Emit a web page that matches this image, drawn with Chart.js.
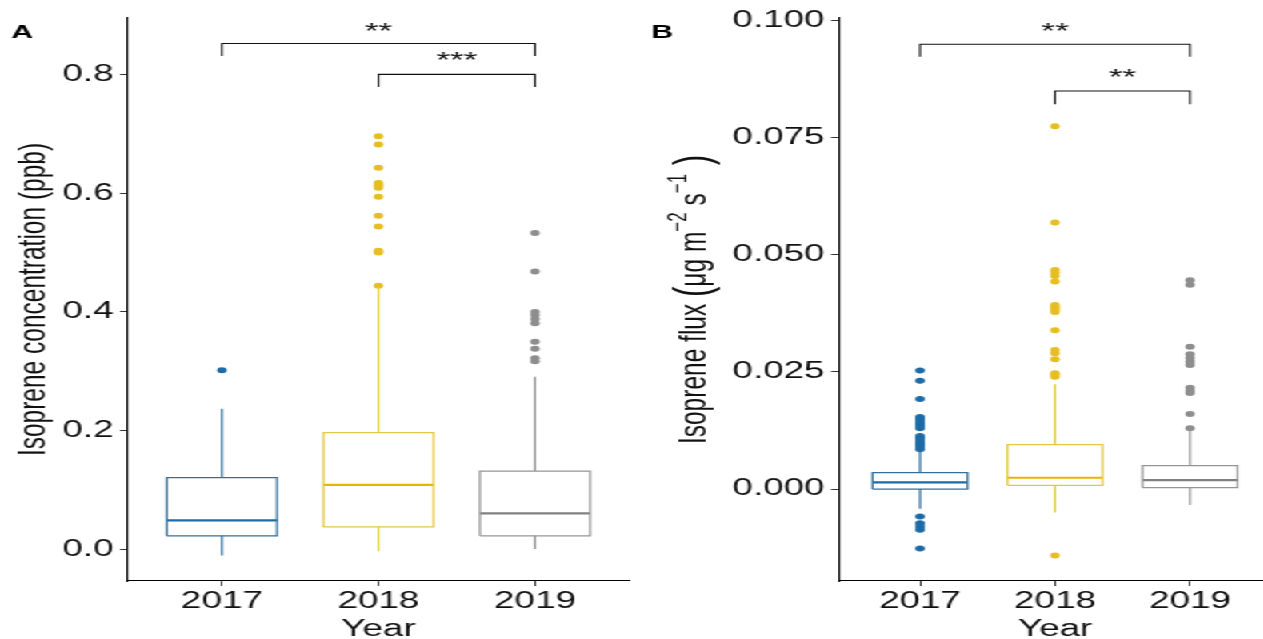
<!DOCTYPE html>
<html><head><meta charset="utf-8">
<script src="https://cdn.jsdelivr.net/npm/chart.js@4.4.0/dist/chart.umd.min.js"></script>
<style>
html,body{margin:0;padding:0;background:#fff;overflow:hidden;width:1263px;height:639px;}
#wrap{position:absolute;left:0;top:0;width:800px;height:639px;transform:scaleX(1.6);transform-origin:0 0;}
#wrap canvas{position:absolute;top:0;}
#cA{left:0;} #cB{left:400px;}
</style></head><body>
<div id="wrap"><canvas id="cA" width="400" height="639"></canvas><canvas id="cB" width="400" height="639"></canvas></div>
<script>
// ---------- data ----------
const years = ['2017', '2018', '2019'];

// Panel A: isoprene concentration (ppb)
const concTicks = [0.0, 0.2, 0.4, 0.6, 0.8];
const concLower  = [-0.010, -0.003, 0.001];
const concQ1     = [0.023, 0.038, 0.023];
const concMedian = [0.049, 0.109, 0.061];
const concQ3     = [0.121, 0.197, 0.132];
const concUpper  = [0.237, 0.442, 0.291];
const concOut2017 = [0.302];
const concOut2018 = [0.444, 0.500, 0.503, 0.544, 0.562, 0.594, 0.609, 0.613, 0.617, 0.643, 0.682, 0.696];
const concOut2019 = [0.317, 0.322, 0.338, 0.350, 0.381, 0.388, 0.395, 0.400, 0.468, 0.533];
const concSigFrom  = [1, 2];
const concSigTo    = [3, 3];
const concSigTop   = [0.852, 0.800];
const concSigFoot  = [0.831, 0.779];
const concSigLabel = ['**', '***'];
const concSigText  = [0.883, 0.834];

// Panel B: isoprene flux (ug m-2 s-1)
const fluxTicks = [0.000, 0.025, 0.050, 0.075, 0.100];
const fluxLower  = [-0.0042, -0.0050, -0.0034];
const fluxQ1     = [0.0000, 0.0008, 0.0003];
const fluxMedian = [0.0014, 0.0024, 0.0019];
const fluxQ3     = [0.0035, 0.0095, 0.0050];
const fluxUpper  = [0.0083, 0.0224, 0.0130];
const fluxOut2017 = [0.0085, 0.0090, 0.0095, 0.0100, 0.0105, 0.0110, 0.0113,
                     0.0130, 0.0135, 0.0140, 0.0145, 0.0150, 0.0154, 0.0192, 0.0231, 0.0253,
                     -0.0059, -0.0073, -0.0080, -0.0087, -0.0127];
const fluxOut2018 = [0.0240, 0.0244, 0.0247, 0.0277, 0.0290, 0.0297, 0.0339,
                     0.0378, 0.0382, 0.0386, 0.0390, 0.0393, 0.0443, 0.0455, 0.0462, 0.0468,
                     0.0569, 0.0775, -0.0142];
const fluxOut2019 = [0.0130, 0.0160, 0.0205, 0.0210, 0.0216, 0.0265, 0.0272, 0.0280, 0.0288,
                     0.0304, 0.0436, 0.0446];
const fluxSigFrom  = [1, 2];
const fluxSigTo    = [3, 3];
const fluxSigTop   = [0.0950, 0.0850];
const fluxSigFoot  = [0.0923, 0.0822];
const fluxSigLabel = ['**', '**'];
const fluxSigText  = [0.0991, 0.0891];

// ---------- styles ----------
const FONT = "'Liberation Sans', Arial, Helvetica, sans-serif";
const TXT = '#111';
const pointCol  = ['#1D6BA6', '#E5BE22', '#8E8E8E'];
const boxCol    = ['#30709F', '#E4C840', '#959595'];
const medianCol = ['#1D6BA6', '#E8B400', '#808080'];
const HW = 0.352;
const LW = 1.25;

function boxDatasets(lo, q1, med, q3, hi, outs) {
  const ds = [];
  for (let i = 0; i < years.length; i++) {
    const x = i + 1;
    const line = {showLine: true, pointRadius: 0, fill: false, tension: 0,
                  borderCapStyle: 'butt', borderJoinStyle: 'miter'};
    ds.push(Object.assign({}, line, {data: [{x: x, y: q3[i]}, {x: x, y: hi[i]}], borderColor: boxCol[i], borderWidth: LW}));
    ds.push(Object.assign({}, line, {data: [{x: x, y: q1[i]}, {x: x, y: lo[i]}], borderColor: boxCol[i], borderWidth: LW}));
    ds.push(Object.assign({}, line, {data: [
      {x: x - HW, y: q1[i]}, {x: x + HW, y: q1[i]}, {x: x + HW, y: q3[i]},
      {x: x - HW, y: q3[i]}, {x: x - HW, y: q1[i]}], borderColor: boxCol[i], borderWidth: LW}));
    ds.push(Object.assign({}, line, {data: [{x: x - HW, y: med[i]}, {x: x + HW, y: med[i]}],
      borderColor: medianCol[i], borderWidth: 2.2}));
    ds.push({data: outs[i].map(v => ({x: x, y: v})), showLine: false, pointRadius: 3,
      pointBackgroundColor: pointCol[i], pointBorderWidth: 0, pointHoverRadius: 3});
  }
  return ds;
}
function bracketDatasets(from, to, top, foot) {
  return from.map((f, i) => ({
    data: [{x: f, y: foot[i]}, {x: f, y: top[i]}, {x: to[i], y: top[i]}, {x: to[i], y: foot[i]}],
    showLine: true, pointRadius: 0, borderColor: '#111', borderWidth: 1.1, fill: false, tension: 0,
    borderJoinStyle: 'miter'
  }));
}

function annotPlugin(letter, from, to, labels, texty, titleFn) {
  return {
    id: 'annot',
    afterDraw(chart) {
      const {ctx, scales: {x, y}} = chart;
      ctx.save();
      ctx.fillStyle = '#000';
      ctx.font = 'bold 19px ' + FONT;
      ctx.textAlign = 'left';
      ctx.textBaseline = 'alphabetic';
      ctx.fillText(letter, 7, 38);
      ctx.fillStyle = '#111';
      ctx.font = '22px ' + FONT;
      ctx.textAlign = 'center';
      labels.forEach((lab, i) => {
        const px = x.getPixelForValue((from[i] + to[i]) / 2);
        const py = y.getPixelForValue(texty[i]);
        ctx.fillText(lab, px, py + 0.57 * 22);
      });
      if (titleFn) titleFn(ctx, chart);
      ctx.restore();
    }
  };
}

function fluxTitle(ctx, chart) {
  const area = chart.chartArea;
  const cy = (area.top + area.bottom) / 2;
  const capCenterX = 32;
  const size = 24.5, supSize = 17, parSize = 31;
  const parts = [
    {t: 'Isoprene flux', f: size + 'px ' + FONT, dy: 0},
    {t: ' ', f: size + 'px ' + FONT, dy: 0},
    {t: '(', f: parSize + 'px ' + FONT, dy: 2},
    {t: '\u03bcg m', f: size + 'px ' + FONT, dy: 0},
    {t: '\u22122', f: supSize + 'px ' + FONT, dy: -12},
    {t: ' s', f: size + 'px ' + FONT, dy: 0},
    {t: '\u22121', f: supSize + 'px ' + FONT, dy: -12},
    {t: ' )', f: parSize + 'px ' + FONT, dy: 2}
  ];
  let total = 0;
  parts.forEach(p => { ctx.font = p.f; p.w = ctx.measureText(p.t).width; total += p.w; });
  ctx.save();
  ctx.translate(capCenterX + 0.36 * size, cy);
  ctx.rotate(-Math.PI / 2);
  ctx.fillStyle = TXT;
  ctx.textAlign = 'left';
  ctx.textBaseline = 'alphabetic';
  let cx = -total / 2;
  parts.forEach(p => { ctx.font = p.f; ctx.fillText(p.t, cx, p.dy); cx += p.w; });
  ctx.restore();
}

function makeChart(id, opt) {
  const datasets = boxDatasets(opt.lo, opt.q1, opt.med, opt.q3, opt.hi, opt.outs)
    .concat(bracketDatasets(opt.from, opt.to, opt.top, opt.foot));
  return new Chart(document.getElementById(id), {
    type: 'scatter',
    data: {datasets: datasets},
    options: {
      responsive: false, animation: false, devicePixelRatio: 1,
      layout: {padding: {left: 0, right: opt.padRight, top: 18, bottom: 0}},
      plugins: {legend: {display: false}, tooltip: {enabled: false}},
      elements: {line: {borderWidth: 1}},
      scales: {
        x: {
          type: 'linear', min: 0.4, max: 3.6,
          grid: {display: true, drawOnChartArea: false, drawTicks: true, tickLength: 5, color: '#333', tickWidth: 1},
          border: {display: true, color: '#000', width: 1.1},
          afterBuildTicks: s => { s.ticks = years.map((y, i) => ({value: i + 1})); },
          ticks: {autoSkip: false, maxRotation: 0, padding: 2, color: TXT,
                  font: {family: FONT, size: 23},
                  callback: v => years[Math.round(v) - 1]},
          title: {display: true, text: 'Year', color: TXT, font: {family: FONT, size: 23, lineHeight: 0.85},
                  padding: {top: 0, bottom: 0}},
          afterFit: s => { s.height = 58; }
        },
        y: {
          type: 'linear', min: opt.ymin, max: opt.ymax,
          grid: {display: true, drawOnChartArea: false, drawTicks: true, tickLength: 5, color: '#333', tickWidth: 1},
          border: {display: true, color: '#000', width: 1.1},
          afterBuildTicks: s => { s.ticks = opt.ticks.map(v => ({value: v})); },
          ticks: {autoSkip: false, padding: 4, color: TXT, font: {family: FONT, size: 23},
                  callback: v => v.toFixed(opt.dec)},
          title: opt.ytitle ? {display: true, text: opt.ytitle, color: TXT,
                  font: {family: FONT, size: 24.5, lineHeight: 1.2}, padding: {top: 7, bottom: 0}} : {display: false},
          afterFit: s => { s.width = opt.yWidth; }
        }
      }
    },
    plugins: [annotPlugin(opt.letter, opt.from, opt.to, opt.labels, opt.texty, opt.titleFn)]
  });
}

makeChart('cA', {
  lo: concLower, q1: concQ1, med: concMedian, q3: concQ3, hi: concUpper,
  outs: [concOut2017, concOut2018, concOut2019],
  from: concSigFrom, to: concSigTo, top: concSigTop, foot: concSigFoot,
  labels: concSigLabel, texty: concSigText,
  ticks: concTicks, dec: 1, ymin: -0.053, ymax: 0.895,
  yWidth: 80, padRight: 6.9, letter: 'A',
  ytitle: 'Isoprene concentration (ppb)'
});
makeChart('cB', {
  lo: fluxLower, q1: fluxQ1, med: fluxMedian, q3: fluxQ3, hi: fluxUpper,
  outs: [fluxOut2017, fluxOut2018, fluxOut2019],
  from: fluxSigFrom, to: fluxSigTo, top: fluxSigTop, foot: fluxSigFoot,
  labels: fluxSigLabel, texty: fluxSigText,
  ticks: fluxTicks, dec: 3, ymin: -0.01965, ymax: 0.1006,
  yWidth: 124.4, padRight: 5.6, letter: 'B',
  ytitle: null, titleFn: fluxTitle
});
</script>
</body></html>
